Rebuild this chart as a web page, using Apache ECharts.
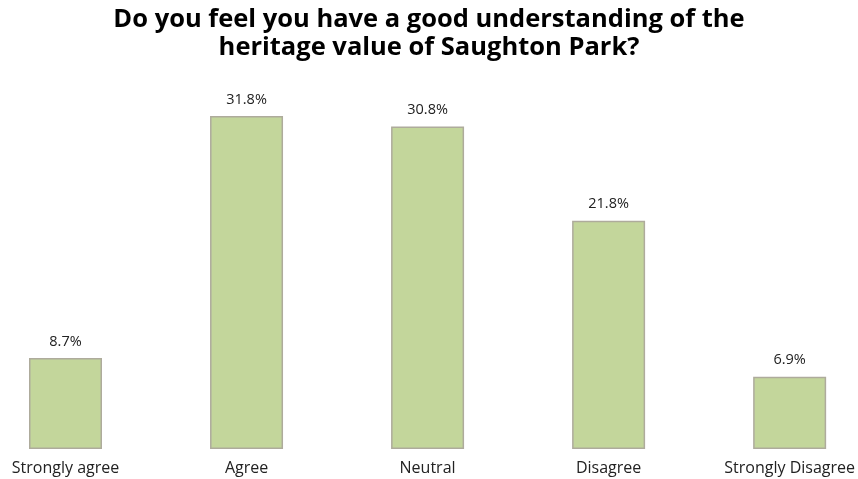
<!DOCTYPE html>
<html>
<head>
<meta charset="utf-8">
<script src="https://cdn.jsdelivr.net/npm/echarts@6/dist/echarts.min.js"></script>
<style>
  html, body { margin: 0; padding: 0; background: #ffffff; }
  #chart { width: 858px; height: 479px; }
</style>
</head>
<body>
<div id="chart"></div>
<script>
// Survey responses (percent of respondents)
const categories = ['Strongly agree', 'Agree', 'Neutral', 'Disagree', 'Strongly Disagree'];
const percentages = [8.7, 31.8, 30.8, 21.8, 6.9];
const titleText = 'Do you feel you have a good understanding of the\nheritage value of Saughton Park?';

const chart = echarts.init(document.getElementById('chart'));
chart.setOption({
  animation: false,
  backgroundColor: '#ffffff',
  title: {
    text: titleText,
    left: 'center',
    top: 1,
    textStyle: {
      fontFamily: 'Open Sans',
      fontWeight: 'bold',
      fontSize: 25.5,
      lineHeight: 28,
      color: '#000000'
    }
  },
  // category points sit on the grid edges, so the outer bars are inset
  grid: { left: 65.5, right: 64.5, top: 82.5, bottom: 30, containLabel: false },
  xAxis: {
    type: 'category',
    data: categories,
    boundaryGap: false,
    axisLine: { show: false },
    axisTick: { show: false },
    axisLabel: {
      interval: 0,
      margin: 11,
      fontFamily: 'Open Sans',
      fontSize: 16,
      color: '#222222'
    }
  },
  yAxis: {
    type: 'value',
    min: 0,
    max: 35,
    show: false,
    splitLine: { show: false }
  },
  series: [{
    type: 'bar',
    data: percentages,
    barWidth: 73,
    itemStyle: {
      color: '#c3d69b',
      borderColor: '#aeab9c',
      borderWidth: 1.5
    },
    label: {
      show: true,
      position: 'top',
      distance: 9,
      formatter: p => p.value.toFixed(1) + '%',
      fontFamily: 'Open Sans',
      fontSize: 14.5,
      color: '#222222'
    }
  }]
});
</script>
</body>
</html>
